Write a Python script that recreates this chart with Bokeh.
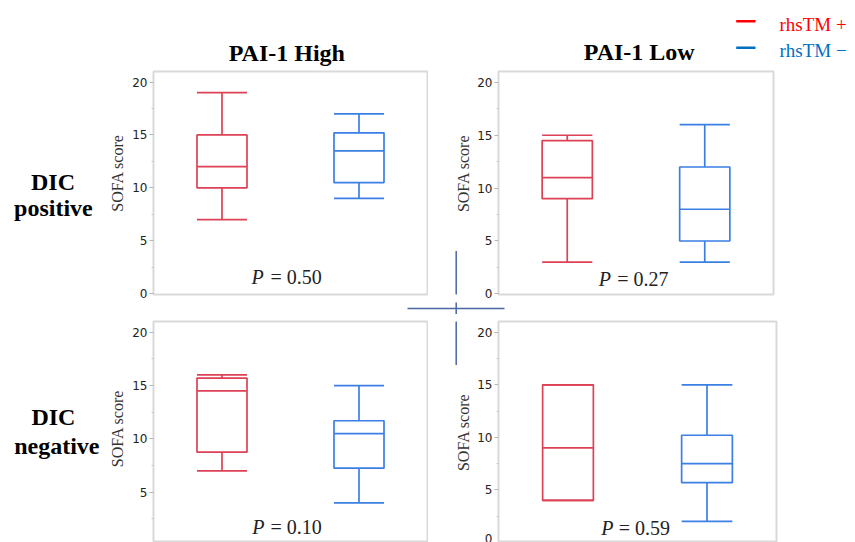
import math
from bokeh.plotting import figure
from bokeh.layouts import column, row
from bokeh.models import Label, FixedTicker, Range1d, ColumnDataSource
from bokeh.embed import file_html
from bokeh.resources import INLINE

# ---------------- data ----------------
groups = ["rhsTM +", "rhsTM \u2212"]
group_x = [1, 2]
col_titles = ["PAI-1 High", "PAI-1 Low"]
row_titles = [["DIC", "positive"], ["DIC", "negative"]]
p_values = ["0.50", "0.27", "0.10", "0.59"]
y_ticks = [0, 5, 10, 15, 20]
y_minor = [2.5, 7.5, 12.5, 17.5]
y_label = "SOFA score"

# five-number summaries: low whisker, Q1, median, Q3, high whisker
pos_high_plus = [7, 10, 12, 15, 19]
pos_high_minus = [9, 10.5, 13.5, 15.2, 17]
pos_low_plus = [3, 9, 11, 14.5, 15]
pos_low_minus = [3, 5, 8, 12, 16]
neg_high_plus = [7, 8.75, 14.5, 15.7, 16]
neg_high_minus = [4, 7.25, 10.5, 11.7, 15]
neg_low_plus = [4, 4, 9, 15, 15]
neg_low_minus = [2, 5.7, 7.5, 10.2, 15]

# ---------------- style / layout ----------------
RED = "#dc4156"
BLUE = "#3b7fe3"
LEG_RED = "#ff0000"
LEG_BLUE = "#0070c0"
CROSS = "#4a67a3"
SERIF = "Liberation Serif"
BW = 0.365
MID = 0.335  # distance baseline -> text middle, in em

# canvas (x, y, w, h) and frame (left, top, right, bottom) in page pixels
geo = {
    "tl": dict(canvas=(127, 66, 301, 236), frame=(153, 71, 427, 296), y20=81.7, unit=10.667),
    "tr": dict(canvas=(474, 66, 381, 236), frame=(498, 69, 773, 294), y20=80.0, unit=10.667),
    "bl": dict(canvas=(127, 314, 301, 228), frame=(153, 321, 427, 542), y20=331.7, unit=10.667),
    "br": dict(canvas=(474, 314, 381, 228), frame=(498, 315, 776, 542), y20=326.0, unit=10.8),
}
for g in geo.values():
    fl, ft, fr, fb = g["frame"]
    g["ye"] = 20 + (g["y20"] - ft) / g["unit"]
    g["ys"] = 20 - (fb - g["y20"]) / g["unit"]


def dx(g, px):
    fl, ft, fr, fb = g["frame"]
    return 0.5 + (px - fl) / (fr - fl) * 2.0


def dy(g, py):
    fl, ft, fr, fb = g["frame"]
    return g["ye"] - (py - ft) / (fb - ft) * (g["ye"] - g["ys"])


def label(p, x, y, text, size, color="black", style="normal", align="center",
          angle=0.0, font=SERIF):
    p.add_layout(Label(x=x, y=y, text=text, text_font=font,
                       text_font_size=f"{size}px", text_font_style=style,
                       text_color=color, text_align=align, text_baseline="middle",
                       angle=angle))


def strip(x0, y0, w, h):
    """A plain canvas whose data coordinates are page pixels (for decorations)."""
    p = figure(width=w, height=h, output_backend="svg", toolbar_location=None,
               x_range=Range1d(x0, x0 + w), y_range=Range1d(y0 + h, y0),
               x_axis_location=None, y_axis_location=None, min_border=0)
    p.outline_line_color = None
    p.grid.visible = False
    p.background_fill_color = "white"
    p.border_fill_color = "white"
    return p


def cross(p):
    p.segment(x0=[455.7, 407], y0=[256, 308], x1=[455.7, 504], y1=[359, 308],
              line_color=CROSS, line_width=1.5)


def make_panel(key, plus, minus):
    g = geo[key]
    cx, cy, cw, ch = g["canvas"]
    fl, ft, fr, fb = g["frame"]
    p = figure(width=cw, height=ch, output_backend="svg", toolbar_location=None,
               x_range=Range1d(0.5, 2.5), y_range=Range1d(g["ys"], g["ye"]),
               x_axis_location=None,
               min_border_left=fl - cx, min_border_right=cx + cw - fr,
               min_border_top=ft - cy, min_border_bottom=cy + ch - fb)
    p.grid.visible = False
    p.outline_line_color = "#d9d9d9"
    p.outline_line_width = 2
    p.background_fill_color = "white"
    p.border_fill_color = "white"
    ax = p.yaxis[0]
    ax.ticker = FixedTicker(ticks=y_ticks, minor_ticks=y_minor)
    ax.axis_line_color = None
    ax.major_label_text_font = "DejaVu Sans"
    ax.major_label_text_font_size = "12px"
    ax.major_label_text_color = "#222222"
    ax.major_label_standoff = 2
    ax.major_tick_line_color = "#b5b5b5"
    ax.major_tick_out = 4
    ax.major_tick_in = 0
    ax.minor_tick_line_color = "#c8c8c8"
    ax.minor_tick_out = 2
    ax.minor_tick_in = 0

    stats = [plus, minus]
    src = ColumnDataSource(dict(
        x=group_x,
        xl=[x - BW / 2 for x in group_x],
        xr=[x + BW / 2 for x in group_x],
        lo=[s[0] for s in stats], q1=[s[1] for s in stats],
        med=[s[2] for s in stats], q3=[s[3] for s in stats],
        hi=[s[4] for s in stats], color=[RED, BLUE]))
    lw = 1.7
    p.segment(x0="x", y0="q3", x1="x", y1="hi", source=src, line_color="color", line_width=lw)
    p.segment(x0="x", y0="lo", x1="x", y1="q1", source=src, line_color="color", line_width=lw)
    p.segment(x0="xl", y0="hi", x1="xr", y1="hi", source=src, line_color="color", line_width=lw)
    p.segment(x0="xl", y0="lo", x1="xr", y1="lo", source=src, line_color="color", line_width=lw)
    p.vbar(x="x", width=BW, bottom="q1", top="q3", source=src, fill_color=None,
           line_color="color", line_width=lw)
    p.segment(x0="xl", y0="med", x1="xr", y1="med", source=src, line_color="color", line_width=lw)
    return p, g


tl, gtl = make_panel("tl", pos_high_plus, pos_high_minus)
tr, gtr = make_panel("tr", pos_low_plus, pos_low_minus)
bl, gbl = make_panel("bl", neg_high_plus, neg_high_minus)
br, gbr = make_panel("br", neg_low_plus, neg_low_minus)

# P values inside the panels
PS = 20
for p, g, px_p, px_eq, base, val in [(tl, gtl, 251.0, 270.0, 285.0, p_values[0]),
                                     (tr, gtr, 598.3, 616.7, 285.0, p_values[1]),
                                     (bl, gbl, 251.7, 270.0, 533.3, p_values[2]),
                                     (br, gbr, 600.7, 618.3, 533.3, p_values[3])]:
    ymid = dy(g, base - MID * PS)
    label(p, dx(g, px_p), ymid, "P", PS, color="#222222", style="italic", align="left")
    label(p, dx(g, px_eq), ymid, "= " + val, PS, color="#222222", align="left")

# ---- decoration canvases (page-pixel coordinates) ----
top = strip(0, 0, 855, 66)
left = strip(0, 66, 127, 476)
vs1 = strip(428, 66, 46, 236)
hs = strip(127, 302, 728, 12)
vs2 = strip(428, 314, 46, 228)
for s in (vs1, hs, vs2):
    cross(s)

# column titles
label(top, 286.3, 60.5 - MID * 24, col_titles[0], 24, style="bold")
label(top, 638.7, 60.0 - MID * 24, col_titles[1], 24, style="bold")

# legend
top.segment(x0=[735.7, 735.7], y0=[20.7, 47.3], x1=[755.0, 755.0], y1=[20.7, 47.3],
            line_color=[LEG_RED, LEG_BLUE], line_width=2.5)
label(top, 779.0, 30.0 - MID * 19, groups[0], 19, color=LEG_RED, align="left")
label(top, 779.0, 56.7 - MID * 19, groups[1], 19, color=LEG_BLUE, align="left")

# row titles
label(left, 52.5, 181.0, row_titles[0][0], 24, style="bold")
label(left, 52.9, 207.0, row_titles[0][1], 24, style="bold")
label(left, 52.9, 416.0, row_titles[1][0], 24, style="bold")
label(left, 56.3, 445.0, row_titles[1][1], 24, style="bold")

# y-axis titles
label(left, 117.3, 172.5, y_label, 16, color="#333333", angle=math.pi / 2)
label(left, 117.3, 428.0, y_label, 16, color="#333333", angle=math.pi / 2)
label(vs1, 463.0, 173.8, y_label, 16, color="#333333", angle=math.pi / 2)
label(vs2, 463.3, 428.3, y_label, 16, color="#333333", angle=math.pi / 2)

layout = column(
    top,
    row(left, column(row(tl, vs1, tr), hs, row(bl, vs2, br))),
)
open("out.html", "w").write(file_html(layout, INLINE))
